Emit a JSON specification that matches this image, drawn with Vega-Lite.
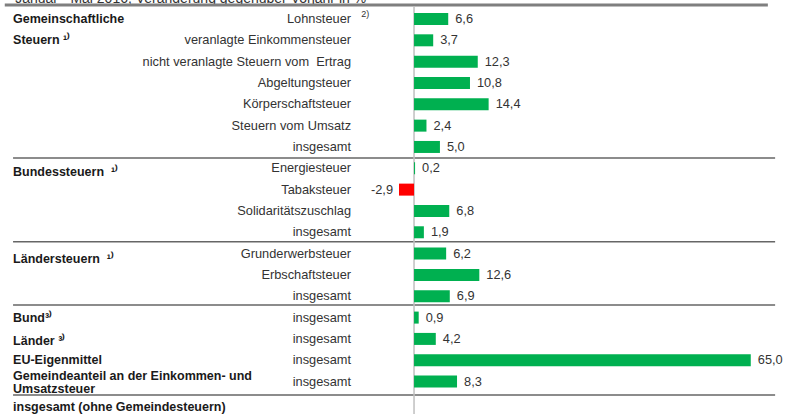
{
  "$schema": "https://vega.github.io/schema/vega-lite/v6.json",
  "width": 786,
  "height": 414,
  "padding": 0,
  "autosize": "none",
  "config": {
    "view": {"stroke": null},
    "scale": {"continuousPadding": 0},
    "locale": {"number": {"decimal": ",", "thousands": ".", "grouping": [3], "currency": ["", " €"], "minus": "-"}},
    "text": {"font": "Liberation Sans", "fontSize": 12.8}
  },
  "datasets": {
    "rows": [
      {"r": 0, "label": "Lohnsteuer", "value": 6.6, "fn": "2)"},
      {"r": 1, "label": "veranlagte Einkommensteuer", "value": 3.7},
      {"r": 2, "label": "nicht veranlagte Steuern vom\u00a0 Ertrag", "value": 12.3},
      {"r": 3, "label": "Abgeltungsteuer", "value": 10.8},
      {"r": 4, "label": "Körperschaftsteuer", "value": 14.4},
      {"r": 5, "label": "Steuern vom Umsatz", "value": 2.4},
      {"r": 6, "label": "insgesamt", "value": 5.0},
      {"r": 7, "label": "Energiesteuer", "value": 0.2},
      {"r": 8, "label": "Tabaksteuer", "value": -2.9},
      {"r": 9, "label": "Solidaritätszuschlag", "value": 6.8},
      {"r": 10, "label": "insgesamt", "value": 1.9},
      {"r": 11, "label": "Grunderwerbsteuer", "value": 6.2},
      {"r": 12, "label": "Erbschaftsteuer", "value": 12.6},
      {"r": 13, "label": "insgesamt", "value": 6.9},
      {"r": 14, "label": "insgesamt", "value": 0.9},
      {"r": 15, "label": "insgesamt", "value": 4.2},
      {"r": 16, "label": "insgesamt", "value": 65.0},
      {"r": 17, "label": "insgesamt", "value": 8.3}
    ],
    "groups": [
      {"r": 0, "label": "Gemeinschaftliche"},
      {"r": 1, "label": "Steuern ¹⁾"},
      {"r": 7.17, "label": "Bundessteuern \u00a0¹⁾"},
      {"r": 11.25, "label": "Ländersteuern \u00a0¹⁾"},
      {"r": 14.02, "label": "Bund³⁾"},
      {"r": 15.1, "label": "Länder ³⁾"},
      {"r": 15.99, "label": "EU-Eigenmittel"},
      {"r": 16.74, "label": ["Gemeindeanteil an der Einkommen- und", "Umsatzsteuer"]},
      {"r": 18.19, "label": "insgesamt (ohne Gemeindesteuern)"}
    ],
    "seps": [
      {"r": 6.52},
      {"r": 10.45},
      {"r": 13.41},
      {"r": 17.63}
    ],
    "title": [
      {"r": -0.75, "label": "Januar - Mai 2016, Veränderung gegenüber Vorjahr in %"}
    ]
  },
  "layer": [
    {
      "data": {"name": "title"},
      "mark": {"type": "text", "align": "left", "baseline": "alphabetic", "fontSize": 14, "color": "#333333", "clip": true},
      "encoding": {
        "x": {"datum": -77.0, "type": "quantitative", "scale": {"domain": [-79.92, 71.8], "nice": false, "zero": false, "padding": 0}, "axis": null},
        "y": {"field": "r", "type": "quantitative", "scale": {"domain": [-0.89, 18.52], "reverse": true, "nice": false, "zero": false, "padding": 0}, "axis": null},
        "text": {"field": "label"}
      }
    },
    {
      "data": {"values": [{"r": -0.66}]},
      "mark": {"type": "rule", "color": "#7f7f7f", "strokeWidth": 3},
      "encoding": {
        "x": {"datum": -79.0, "type": "quantitative", "scale": {"domain": [-79.92, 71.8], "nice": false, "zero": false, "padding": 0}, "axis": null},
        "x2": {"datum": 68.3},
        "y": {"field": "r", "type": "quantitative", "scale": {"domain": [-0.89, 18.52], "reverse": true, "nice": false, "zero": false, "padding": 0}, "axis": null}
      }
    },
    {
      "data": {"name": "seps"},
      "mark": {"type": "rule", "color": "#666666", "strokeWidth": 1.5},
      "encoding": {
        "x": {"datum": -77.4, "type": "quantitative", "scale": {"domain": [-79.92, 71.8], "nice": false, "zero": false, "padding": 0}, "axis": null},
        "x2": {"datum": 69.7},
        "y": {"field": "r", "type": "quantitative", "scale": {"domain": [-0.89, 18.52], "reverse": true, "nice": false, "zero": false, "padding": 0}, "axis": null}
      }
    },
    {
      "data": {"values": [{"a": -0.6, "b": 18.52}]},
      "mark": {"type": "rule", "color": "#bfbfbf", "strokeWidth": 1.5},
      "encoding": {
        "x": {"datum": 0, "type": "quantitative", "scale": {"domain": [-79.92, 71.8], "nice": false, "zero": false, "padding": 0}, "axis": null},
        "y": {"field": "a", "type": "quantitative", "scale": {"domain": [-0.89, 18.52], "reverse": true, "nice": false, "zero": false, "padding": 0}, "axis": null},
        "y2": {"field": "b"}
      }
    },
    {
      "data": {"name": "rows"},
      "mark": {"type": "bar", "orient": "horizontal", "size": 12},
      "encoding": {
        "x": {"field": "value", "type": "quantitative", "scale": {"domain": [-79.92, 71.8], "nice": false, "zero": false, "padding": 0}, "axis": null},
        "x2": {"datum": 0},
        "y": {"field": "r", "type": "quantitative", "scale": {"domain": [-0.89, 18.52], "reverse": true, "nice": false, "zero": false, "padding": 0}, "axis": null},
        "color": {"condition": {"test": "datum.value < 0", "value": "#ff0000"}, "value": "#00b050"}
      }
    },
    {
      "data": {"name": "rows"},
      "transform": [{"filter": "datum.value >= 0"}],
      "mark": {"type": "text", "align": "left", "baseline": "middle", "dx": 7, "color": "#333333"},
      "encoding": {
        "x": {"field": "value", "type": "quantitative", "scale": {"domain": [-79.92, 71.8], "nice": false, "zero": false, "padding": 0}, "axis": null},
        "y": {"field": "r", "type": "quantitative", "scale": {"domain": [-0.89, 18.52], "reverse": true, "nice": false, "zero": false, "padding": 0}, "axis": null},
        "text": {"field": "value", "type": "quantitative", "format": ".1f"}
      }
    },
    {
      "data": {"name": "rows"},
      "transform": [{"filter": "datum.value < 0"}],
      "mark": {"type": "text", "align": "right", "baseline": "middle", "dx": -6, "color": "#333333"},
      "encoding": {
        "x": {"field": "value", "type": "quantitative", "scale": {"domain": [-79.92, 71.8], "nice": false, "zero": false, "padding": 0}, "axis": null},
        "y": {"field": "r", "type": "quantitative", "scale": {"domain": [-0.89, 18.52], "reverse": true, "nice": false, "zero": false, "padding": 0}, "axis": null},
        "text": {"field": "value", "type": "quantitative", "format": ".1f"}
      }
    },
    {
      "data": {"name": "rows"},
      "mark": {"type": "text", "align": "right", "baseline": "middle", "color": "#333333"},
      "encoding": {
        "x": {"datum": -12.16, "type": "quantitative", "scale": {"domain": [-79.92, 71.8], "nice": false, "zero": false, "padding": 0}, "axis": null},
        "y": {"field": "r", "type": "quantitative", "scale": {"domain": [-0.89, 18.52], "reverse": true, "nice": false, "zero": false, "padding": 0}, "axis": null},
        "text": {"field": "label"}
      }
    },
    {
      "data": {"name": "rows"},
      "transform": [{"filter": "datum.fn"}],
      "mark": {"type": "text", "align": "left", "baseline": "middle", "dy": -5, "fontSize": 9, "color": "#333333"},
      "encoding": {
        "x": {"datum": -10.2, "type": "quantitative", "scale": {"domain": [-79.92, 71.8], "nice": false, "zero": false, "padding": 0}, "axis": null},
        "y": {"field": "r", "type": "quantitative", "scale": {"domain": [-0.89, 18.52], "reverse": true, "nice": false, "zero": false, "padding": 0}, "axis": null},
        "text": {"field": "fn"}
      }
    },
    {
      "data": {"name": "groups"},
      "mark": {"type": "text", "align": "left", "baseline": "middle", "fontWeight": "bold", "fontSize": 12.5, "lineHeight": 12.5, "color": "#1a1a1a"},
      "encoding": {
        "x": {"datum": -77.4, "type": "quantitative", "scale": {"domain": [-79.92, 71.8], "nice": false, "zero": false, "padding": 0}, "axis": null},
        "y": {"field": "r", "type": "quantitative", "scale": {"domain": [-0.89, 18.52], "reverse": true, "nice": false, "zero": false, "padding": 0}, "axis": null},
        "text": {"field": "label"}
      }
    }
  ]
}
